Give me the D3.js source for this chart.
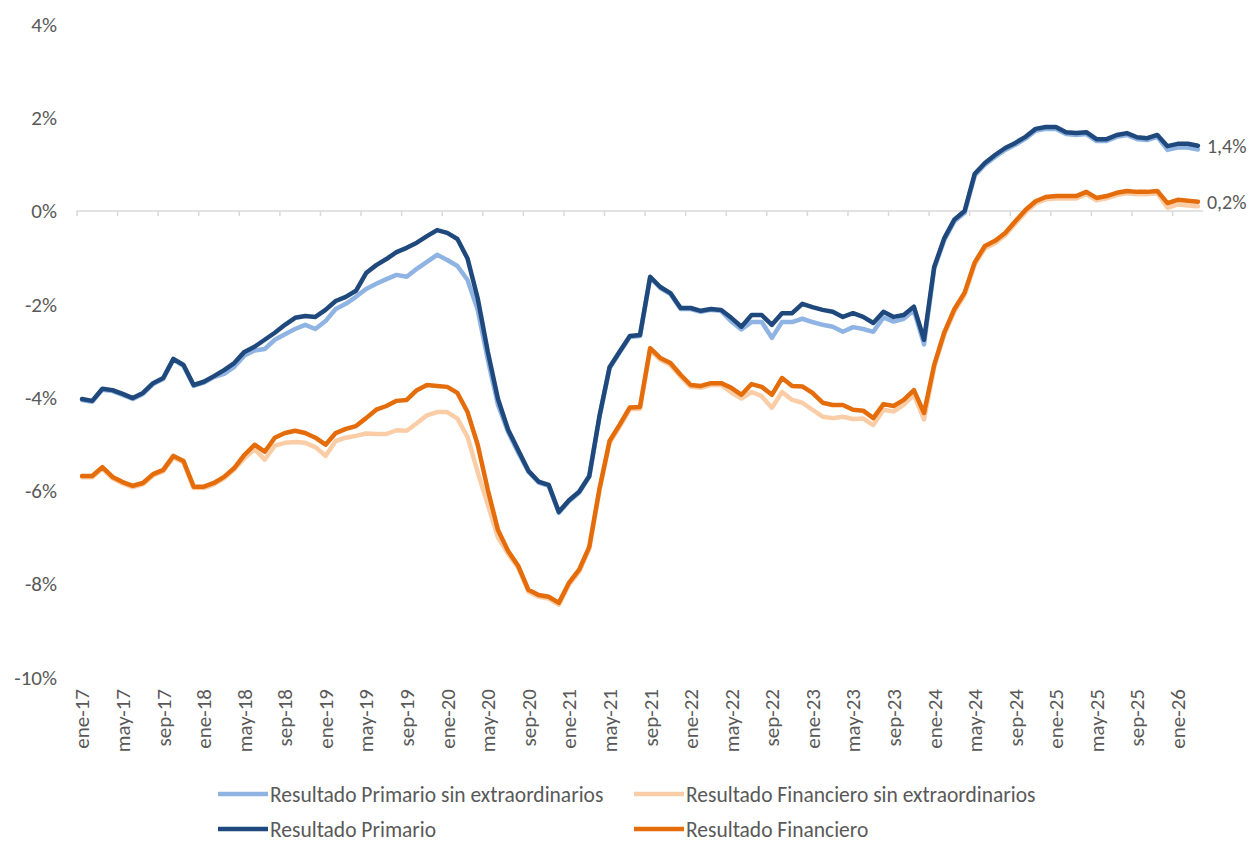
<!DOCTYPE html>
<html>
<head>
<meta charset="utf-8">
<script src="https://cdn.jsdelivr.net/npm/d3@7"></script>
<style>
  body { margin: 0; background: #fff; }
  text { font-family: Carlito, Calibri, Lato, sans-serif; fill: #595959; }
</style>
</head>
<body>
<div id="chart"></div>
<script>
var svgWidth = 1253;
var svgHeight = 843;

// month names and years used for the category labels
var monthNames = ["ene", "feb", "mar", "abr", "may", "jun", "jul", "ago", "sep", "oct", "nov", "dic"];
var firstYear = 17;
var nMonths = 111; // ene-17 .. mar-26

var categories = [];
for (var i = 0; i < nMonths; i++) {
  categories.push(monthNames[i % 12] + "-" + (firstYear + Math.floor(i / 12)));
}

var yTicks = [4, 2, 0, -2, -4, -6, -8, -10];

// Resultado Primario (% del PBI)
var primario = [
  -4.03, -4.07, -3.81, -3.84, -3.92, -4.01, -3.90, -3.69, -3.58, -3.17, -3.30, -3.73,
  -3.66, -3.54, -3.41, -3.26, -3.02, -2.91, -2.76, -2.61, -2.44, -2.29, -2.25, -2.27,
  -2.12, -1.93, -1.84, -1.71, -1.33, -1.16, -1.03, -0.88, -0.79, -0.68, -0.54, -0.41,
  -0.47, -0.60, -1.02, -1.87, -3.02, -4.03, -4.69, -5.13, -5.57, -5.80, -5.87, -6.45,
  -6.20, -6.02, -5.68, -4.40, -3.35, -3.01, -2.68, -2.66, -1.41, -1.63, -1.76, -2.08,
  -2.08, -2.14, -2.10, -2.12, -2.29, -2.48, -2.23, -2.23, -2.44, -2.19, -2.19, -1.99,
  -2.06, -2.12, -2.16, -2.27, -2.19, -2.27, -2.40, -2.16, -2.27, -2.23, -2.05, -2.76,
  -1.20, -0.58, -0.18, 0.00, 0.80, 1.03, 1.20, 1.35, 1.46, 1.59, 1.76, 1.80,
  1.80, 1.69, 1.67, 1.69, 1.54, 1.54, 1.63, 1.67, 1.58, 1.56, 1.63, 1.39,
  1.44, 1.44, 1.40
];

// Resultado Primario sin extraordinarios
var primarioSinExt = [
  -4.05, -4.09, -3.83, -3.86, -3.94, -4.03, -3.92, -3.71, -3.60, -3.19, -3.32, -3.75,
  -3.68, -3.56, -3.49, -3.34, -3.10, -2.99, -2.96, -2.76, -2.64, -2.53, -2.44, -2.53,
  -2.36, -2.10, -1.99, -1.84, -1.67, -1.56, -1.46, -1.37, -1.41, -1.24, -1.09, -0.94,
  -1.05, -1.18, -1.48, -2.12, -3.19, -4.16, -4.74, -5.18, -5.59, -5.82, -5.89, -6.47,
  -6.22, -6.04, -5.70, -4.42, -3.37, -3.03, -2.70, -2.68, -1.43, -1.65, -1.78, -2.10,
  -2.10, -2.16, -2.12, -2.14, -2.37, -2.54, -2.38, -2.38, -2.72, -2.38, -2.38, -2.31,
  -2.38, -2.44, -2.48, -2.59, -2.49, -2.53, -2.59, -2.28, -2.37, -2.31, -2.13, -2.86,
  -1.24, -0.62, -0.22, -0.04, 0.76, 0.99, 1.16, 1.31, 1.42, 1.55, 1.72, 1.76,
  1.76, 1.65, 1.63, 1.65, 1.50, 1.50, 1.59, 1.63, 1.54, 1.52, 1.59, 1.31,
  1.36, 1.36, 1.32
];

// Resultado Financiero
var financiero = [
  -5.68, -5.68, -5.49, -5.70, -5.81, -5.89, -5.83, -5.64, -5.55, -5.25, -5.36, -5.91,
  -5.91, -5.83, -5.70, -5.51, -5.23, -5.01, -5.16, -4.86, -4.76, -4.71, -4.76, -4.86,
  -5.01, -4.76, -4.67, -4.61, -4.44, -4.26, -4.18, -4.07, -4.05, -3.84, -3.73, -3.75,
  -3.77, -3.90, -4.31, -5.01, -5.98, -6.84, -7.29, -7.61, -8.12, -8.23, -8.27, -8.40,
  -7.97, -7.69, -7.20, -5.96, -4.93, -4.58, -4.21, -4.20, -2.94, -3.15, -3.26, -3.51,
  -3.73, -3.75, -3.69, -3.69, -3.79, -3.94, -3.71, -3.77, -3.94, -3.58, -3.75, -3.76,
  -3.90, -4.11, -4.16, -4.16, -4.26, -4.28, -4.44, -4.14, -4.18, -4.05, -3.84, -4.33,
  -3.30, -2.60, -2.10, -1.75, -1.10, -0.75, -0.64, -0.47, -0.22, 0.02, 0.21, 0.30,
  0.32, 0.32, 0.32, 0.41, 0.28, 0.32, 0.39, 0.43, 0.41, 0.41, 0.43, 0.17,
  0.24, 0.22, 0.20
];

// Resultado Financiero sin extraordinarios
var financieroSinExt = [
  -5.71, -5.71, -5.52, -5.73, -5.84, -5.92, -5.86, -5.67, -5.58, -5.28, -5.39, -5.94,
  -5.94, -5.86, -5.73, -5.54, -5.30, -5.10, -5.33, -5.03, -4.97, -4.95, -4.97, -5.06,
  -5.25, -4.93, -4.86, -4.82, -4.77, -4.78, -4.78, -4.70, -4.71, -4.55, -4.38, -4.31,
  -4.31, -4.45, -4.84, -5.60, -6.30, -7.00, -7.35, -7.65, -8.16, -8.27, -8.31, -8.44,
  -8.01, -7.73, -7.24, -6.00, -4.97, -4.62, -4.25, -4.24, -2.98, -3.19, -3.30, -3.55,
  -3.77, -3.79, -3.73, -3.73, -3.89, -4.02, -3.88, -3.97, -4.22, -3.88, -4.05, -4.11,
  -4.26, -4.41, -4.44, -4.41, -4.46, -4.45, -4.59, -4.26, -4.30, -4.15, -3.94, -4.47,
  -3.35, -2.65, -2.15, -1.80, -1.15, -0.80, -0.69, -0.52, -0.27, -0.03, 0.16, 0.25,
  0.27, 0.27, 0.27, 0.36, 0.23, 0.27, 0.34, 0.38, 0.36, 0.36, 0.38, 0.07,
  0.14, 0.12, 0.10
];

var series = [
  { name: "Resultado Primario sin extraordinarios", values: primarioSinExt, color: "#8fb4e3" },
  { name: "Resultado Financiero sin extraordinarios", values: financieroSinExt, color: "#fbcda6" },
  { name: "Resultado Primario", values: primario, color: "#1f497d" },
  { name: "Resultado Financiero", values: financiero, color: "#e46c0a" }
];

var svg = d3.select("#chart")
  .append("svg")
  .attr("width", svgWidth)
  .attr("height", svgHeight);

var x = d3.scaleBand()
  .domain(categories)
  .range([77, 1203])
  .paddingInner(0)
  .paddingOuter(0);

var y = d3.scaleLinear()
  .domain([-10, 4])
  .range([677.5, 24.4]);

var xc = function(d) { return x(d) + x.bandwidth() / 2; };

// y axis labels (no line)
var leftAxis = d3.axisLeft(y)
  .tickValues(yTicks)
  .tickSize(0)
  .tickPadding(0)
  .tickFormat(function(d) { return d + "%"; });

svg.append("g")
  .attr("transform", "translate(57,0)")
  .call(leftAxis)
  .call(function(g) { g.select(".domain").remove(); })
  .selectAll("text")
  .style("font-family", "Carlito, Calibri, Lato, sans-serif")
  .style("font-size", "21px")
  .attr("fill", "#595959");

// zero line with tick marks on category boundaries
var zeroG = svg.append("g").attr("transform", "translate(0," + y(0) + ")");
zeroG.append("line")
  .attr("x1", x.range()[0])
  .attr("x2", x.range()[1])
  .attr("stroke", "#d9d9d9")
  .attr("stroke-width", 1.5);
zeroG.selectAll(".tk")
  .data(categories.filter(function(d, i) { return i % 4 === 0; }))
  .enter()
  .append("line")
  .attr("class", "tk")
  .attr("x1", function(d) { return x(d); })
  .attr("x2", function(d) { return x(d); })
  .attr("y1", 0)
  .attr("y2", 5)
  .attr("stroke", "#d9d9d9")
  .attr("stroke-width", 1.5);

// category labels at the bottom, rotated
var bottomAxis = d3.axisBottom(x)
  .tickValues(categories.filter(function(d, i) { return i % 4 === 0; }))
  .tickSize(0);

svg.append("g")
  .attr("transform", "translate(0,689)")
  .call(bottomAxis)
  .call(function(g) { g.select(".domain").remove(); })
  .selectAll("text")
  .attr("transform", "rotate(-90)")
  .attr("x", 0)
  .attr("y", 0)
  .attr("dy", "0.35em")
  .style("text-anchor", "end")
  .style("font-family", "Carlito, Calibri, Lato, sans-serif")
  .style("font-size", "21px")
  .attr("fill", "#595959");

// lines
var line = d3.line()
  .x(function(d, i) { return xc(categories[i]); })
  .y(function(d) { return y(d); });

svg.selectAll(".series")
  .data(series)
  .enter()
  .append("path")
  .attr("class", "series")
  .attr("d", function(s) { return line(s.values); })
  .attr("fill", "none")
  .attr("stroke", function(s) { return s.color; })
  .attr("stroke-width", 4.5)
  .attr("stroke-linejoin", "round")
  .attr("stroke-linecap", "round");

// end labels
var last = categories[nMonths - 1];
[primario, financiero].forEach(function(vals) {
  var v = vals[nMonths - 1];
  svg.append("text")
    .attr("x", xc(last) + 9)
    .attr("y", y(v))
    .attr("dy", "0.35em")
    .style("font-size", "20px")
    .text(d3.format(".1f")(v).replace(".", ",") + "%");
});

// legend
var legendItems = [
  { s: series[0], x: 218, y: 794 },
  { s: series[1], x: 634, y: 794 },
  { s: series[2], x: 218, y: 829 },
  { s: series[3], x: 634, y: 829 }
];
var lg = svg.selectAll(".legend")
  .data(legendItems)
  .enter()
  .append("g")
  .attr("class", "legend")
  .attr("transform", function(d) { return "translate(" + d.x + "," + d.y + ")"; });
lg.append("line")
  .attr("x1", 0)
  .attr("x2", 50)
  .attr("stroke", function(d) { return d.s.color; })
  .attr("stroke-width", 4.5);
lg.append("text")
  .attr("x", 52)
  .attr("dy", "0.35em")
  .style("font-size", "21.5px")
  .text(function(d) { return d.s.name; });
</script>
</body>
</html>
